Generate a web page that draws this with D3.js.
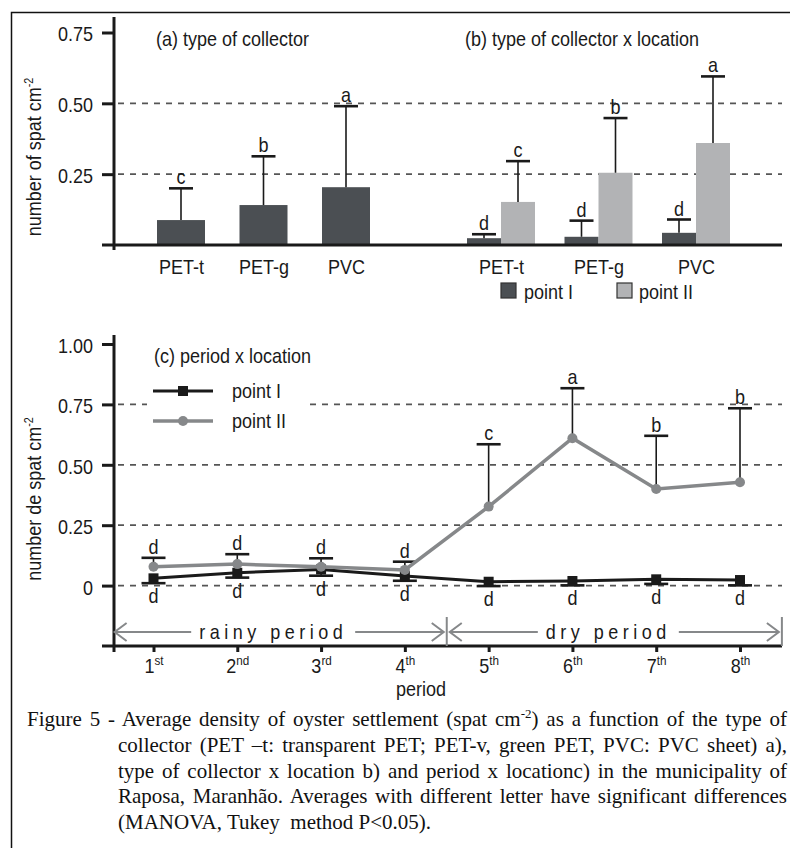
<!DOCTYPE html>
<html>
<head>
<meta charset="utf-8">
<script src="https://cdn.jsdelivr.net/npm/d3@7"></script>
<style>
body { margin: 0; background: #fff; }
#wrap { position: relative; width: 790px; height: 848px; overflow: hidden; }
svg { position: absolute; left: 0; top: 0; }
.cap { position: absolute; font-family: "Liberation Serif", "Times New Roman", serif; font-size: 21px; line-height: 24px; white-space: nowrap; color: #111; }
.just { text-align: justify; text-align-last: justify; }
.sup { font-size: 13px; position: relative; top: -8px; }
</style>
</head>
<body>
<div id="wrap"></div>
<script>
// (a) type of collector
const collectors = ["PET-t", "PET-g", "PVC"]
const collectorMean = [0.088, 0.141, 0.204]
const collectorUpper = [0.200, 0.313, 0.490]
const collectorLetter = ["c", "b", "a"]

// (b) type of collector x location
const locations = ["point I", "point II"]
const locIMean = [0.024, 0.029, 0.043]
const locIUpper = [0.038, 0.086, 0.090]
const locILetter = ["d", "d", "d"]
const locIIMean = [0.152, 0.255, 0.360]
const locIIUpper = [0.296, 0.448, 0.595]
const locIILetter = ["c", "b", "a"]

// (c) period x location
const periods = [1, 2, 3, 4, 5, 6, 7, 8]
const periodNum = ["1", "2", "3", "4", "5", "6", "7", "8"]
const periodSup = ["st", "nd", "rd", "th", "th", "th", "th", "th"]
const pointIMean = [0.030, 0.053, 0.067, 0.040, 0.016, 0.019, 0.026, 0.023]
const pointILower = [0.010, 0.033, 0.041, 0.020, -0.002, 0.001, 0.007, 0.001]
const pointILetter = ["d", "d", "d", "d", "d", "d", "d", "d"]
const pointIIMean = [0.078, 0.089, 0.078, 0.065, 0.327, 0.610, 0.400, 0.428]
const pointIIUpper = [0.115, 0.130, 0.113, 0.099, 0.585, 0.817, 0.620, 0.734]
const pointIILetter = ["d", "d", "d", "d", "c", "a", "b", "b"]
const seasons = ["rainy period", "dry period"]
const seasonFrom = [0.5, 4.5]
const seasonTo = [4.5, 8.5]

const W = 790, H = 848
const ink = "#1a1a1a", dark = "#4b4f53", light = "#b2b3b5", grey = "#86888a"
const dash = "6,6"
const capW = 24
const SX = 0.9   // the figure's sans text is a little condensed
const sans = "'Liberation Sans', Arial, sans-serif"

const svg = d3.select("#wrap").append("svg")
  .attr("width", W)
  .attr("height", H)
  .style("font-family", sans)
  .style("font-size", "20px")

// frame round the figure (runs off the right and bottom)
svg.append("rect")
  .attr("x", 11.5).attr("y", 12.5)
  .attr("width", 820).attr("height", 900)
  .attr("fill", "none")
  .attr("stroke", "#111")
  .attr("stroke-width", 1.5)

// text placed at x,y, squeezed horizontally
const put = (g, x, y, rot) => g.append("text")
  .attr("transform", `translate(${x},${y})${rot ? " rotate(-90)" : ""} scale(${SX},1)`)
  .attr("fill", ink)
  .style("font-size", "20px")
  .style("font-family", sans)

const errBar = (g, x, yA, yB) => {
  g.append("line").attr("x1", x).attr("x2", x).attr("y1", yA).attr("y2", yB)
    .attr("stroke", ink).attr("stroke-width", 1.6)
  g.append("line").attr("x1", x - capW / 2).attr("x2", x + capW / 2).attr("y1", yB).attr("y2", yB)
    .attr("stroke", ink).attr("stroke-width", 2.6)
}

const letter = (g, x, y, t) => put(g, x, y).attr("text-anchor", "middle").text(t)

const styleAxis = g => {
  g.select(".domain").remove()
  g.selectAll(".tick line").attr("stroke", ink).attr("stroke-width", 3)
  g.selectAll(".tick text").attr("fill", ink).style("font-size", "20px")
    .style("font-family", sans)
    .attr("transform", `scale(${SX},1)`)
}

// ---------------- upper panel: (a) and (b) ----------------
const yTop = d3.scaleLinear().domain([0, 0.75]).range([245, 32.5])
const xA = d3.scalePoint().domain(collectors).range([181, 346])
const xB = d3.scalePoint().domain(collectors).range([501, 696])
const xSub = d3.scaleBand().domain(locations).range([-34, 34])
const barA = 48

const upper = svg.append("g")

upper.selectAll(".grid")
  .data([0.25, 0.5])
  .enter()
  .append("line")
  .attr("x1", 118).attr("x2", 782)
  .attr("y1", d => yTop(d)).attr("y2", d => yTop(d))
  .attr("stroke", "#555").attr("stroke-width", 1.8)
  .attr("stroke-dasharray", dash)

// (a) bars
collectors.forEach((c, i) => {
  upper.append("rect")
    .attr("x", xA(c) - barA / 2)
    .attr("width", barA)
    .attr("y", yTop(collectorMean[i]))
    .attr("height", yTop(0) - yTop(collectorMean[i]))
    .attr("fill", dark)
  errBar(upper, xA(c), yTop(collectorMean[i]), yTop(collectorUpper[i]))
  letter(upper, xA(c), yTop(collectorUpper[i]) - 4, collectorLetter[i])
})

// (b) bars
const locMean = [locIMean, locIIMean]
const locUpper = [locIUpper, locIIUpper]
const locLetter = [locILetter, locIILetter]
collectors.forEach((c, i) => {
  locations.forEach((l, j) => {
    const x0 = xB(c) + xSub(l)
    const cx = x0 + xSub.bandwidth() / 2
    upper.append("rect")
      .attr("x", x0)
      .attr("width", xSub.bandwidth())
      .attr("y", yTop(locMean[j][i]))
      .attr("height", yTop(0) - yTop(locMean[j][i]))
      .attr("fill", j === 0 ? dark : light)
    errBar(upper, cx, yTop(locMean[j][i]), yTop(locUpper[j][i]))
    letter(upper, cx, yTop(locUpper[j][i]) - 4, locLetter[j][i])
  })
})

upper.append("g")
  .attr("transform", "translate(114,0)")
  .call(d3.axisLeft(yTop).tickValues([0.25, 0.5, 0.75]).tickSize(12).tickPadding(9).tickFormat(d3.format(".2f")))
  .call(styleAxis)
  .call(g => g.selectAll(".tick text").attr("x", -21 / SX).attr("dy", "0.42em"))

upper.append("g")
  .attr("transform", "translate(0,245)")
  .call(d3.axisBottom(xA).tickSize(0).tickPadding(15))
  .call(styleAxis)
upper.append("g")
  .attr("transform", "translate(0,245)")
  .call(d3.axisBottom(xB).tickSize(0).tickPadding(15))
  .call(styleAxis)

upper.append("line").attr("x1", 114).attr("x2", 114).attr("y1", 17).attr("y2", 250)
  .attr("stroke", ink).attr("stroke-width", 3)
upper.append("line").attr("x1", 102).attr("x2", 782).attr("y1", 245).attr("y2", 245)
  .attr("stroke", ink).attr("stroke-width", 3)

put(upper, 156, 46).text("(a) type of collector")
put(upper, 465, 46).text("(b) type of collector x location")

const yLabA = put(upper, 41, 157, true).attr("text-anchor", "middle")
yLabA.append("tspan").text("number of spat cm")
yLabA.append("tspan").attr("dy", -8).style("font-size", "12px").text("-2")

// legend (b)
const legB = upper.append("g")
legB.selectAll("rect")
  .data(locations)
  .enter()
  .append("rect")
  .attr("x", (d, i) => [501, 617][i])
  .attr("y", 283)
  .attr("width", 15).attr("height", 15)
  .attr("fill", (d, i) => i === 0 ? dark : light)
  .attr("stroke", "#333").attr("stroke-width", 1.2)
locations.forEach((l, i) => put(legB, [524, 639][i], 299).text(l))

// ---------------- lower panel: (c) ----------------
const yC = d3.scaleLinear().domain([-0.25, 1]).range([646, 344])
const xC = d3.scaleLinear().domain([1, 8]).range([153.5, 740])
const lower = svg.append("g")

lower.selectAll(".grid")
  .data([0, 0.25, 0.5, 0.75])
  .enter()
  .append("line")
  .attr("x1", 118).attr("x2", 782)
  .attr("y1", d => yC(d)).attr("y2", d => yC(d))
  .attr("stroke", "#555").attr("stroke-width", 1.8)
  .attr("stroke-dasharray", dash)

// legend panel hides part of the 0.75 line
lower.append("rect").attr("x", 147).attr("y", 378).attr("width", 163).attr("height", 54).attr("fill", "#fff")

// error bars and letters
periods.forEach((p, i) => {
  errBar(lower, xC(p), yC(pointIIMean[i]), yC(pointIIUpper[i]))
  letter(lower, xC(p), yC(pointIIUpper[i]) - 4, pointIILetter[i])
  errBar(lower, xC(p), yC(pointIMean[i]), yC(pointILower[i]))
  letter(lower, xC(p), yC(pointILower[i]) + 20, pointILetter[i])
})

const line = d3.line().x((d, i) => xC(periods[i])).y(d => yC(d))

lower.append("path").datum(pointIMean).attr("d", line)
  .attr("fill", "none").attr("stroke", ink).attr("stroke-width", 3)
lower.selectAll(".sq")
  .data(pointIMean)
  .enter()
  .append("rect")
  .attr("x", (d, i) => xC(periods[i]) - 5)
  .attr("y", d => yC(d) - 5)
  .attr("width", 10).attr("height", 10)
  .attr("fill", ink)

lower.append("path").datum(pointIIMean).attr("d", line)
  .attr("fill", "none").attr("stroke", grey).attr("stroke-width", 3.5)
lower.selectAll(".dot")
  .data(pointIIMean)
  .enter()
  .append("circle")
  .attr("cx", (d, i) => xC(periods[i]))
  .attr("cy", d => yC(d))
  .attr("r", 5)
  .attr("fill", grey)

// legend (c)
lower.append("line").attr("x1", 153).attr("x2", 213).attr("y1", 391).attr("y2", 391)
  .attr("stroke", ink).attr("stroke-width", 3)
lower.append("rect").attr("x", 178).attr("y", 386).attr("width", 10).attr("height", 10).attr("fill", ink)
lower.append("line").attr("x1", 153).attr("x2", 213).attr("y1", 421).attr("y2", 421)
  .attr("stroke", grey).attr("stroke-width", 3.5)
lower.append("circle").attr("cx", 183).attr("cy", 421).attr("r", 5).attr("fill", grey)
put(lower, 232, 398).text(locations[0])
put(lower, 232, 428).text(locations[1])
put(lower, 154, 363).text("(c) period x location")

// axes
lower.append("g")
  .attr("transform", "translate(114,0)")
  .call(d3.axisLeft(yC).tickValues([0, 0.25, 0.5, 0.75, 1]).tickSize(12).tickPadding(9)
    .tickFormat(d => d === 0 ? "0" : d3.format(".2f")(d)))
  .call(styleAxis)
  .call(g => g.selectAll(".tick text").attr("x", -21 / SX).attr("dy", "0.42em"))

const xAxisC = lower.append("g")
  .attr("transform", "translate(0,646)")
  .call(d3.axisBottom(xC).tickValues(periods).tickSize(6).tickFormat(""))
  .call(styleAxis)
xAxisC.selectAll(".tick text").remove()
xAxisC.selectAll(".tick").each(function (d, i) {
  const t = put(d3.select(this), 0, 27).attr("text-anchor", "middle")
  t.append("tspan").text(periodNum[i])
  t.append("tspan").attr("dy", -8).style("font-size", "13px").text(periodSup[i])
})

lower.append("line").attr("x1", 114).attr("x2", 114).attr("y1", 335).attr("y2", 652)
  .attr("stroke", ink).attr("stroke-width", 3)
lower.append("line").attr("x1", 102).attr("x2", 782).attr("y1", 646).attr("y2", 646)
  .attr("stroke", ink).attr("stroke-width", 3)

put(lower, 421, 696).attr("text-anchor", "middle").text("period")

const yLabC = put(lower, 41, 499, true).attr("text-anchor", "middle")
yLabC.append("tspan").text("number de spat cm")
yLabC.append("tspan").attr("dy", -8).style("font-size", "12px").text("-2")

// season arrows
const ay = 632
seasons.forEach((s, i) => {
  const x0 = xC(seasonFrom[i]) + 3, x1 = xC(seasonTo[i]) - 3
  const mid = (x0 + x1) / 2 - 6
  const t = put(lower, mid, ay + 7).attr("text-anchor", "middle")
    .style("letter-spacing", "5px").text(s)
  const tw = t.node().getComputedTextLength() * SX
  const g = lower.append("g").attr("stroke", grey).attr("stroke-width", 2).attr("fill", "none")
  g.append("line").attr("x1", x0).attr("x2", mid - tw / 2 - 8).attr("y1", ay).attr("y2", ay)
  g.append("line").attr("x1", mid + tw / 2 + 8).attr("x2", x1).attr("y1", ay).attr("y2", ay)
  g.append("path").attr("d", `M${x0 + 12},${ay - 9}L${x0},${ay}L${x0 + 12},${ay + 9}`)
  g.append("path").attr("d", `M${x1 - 12},${ay - 9}L${x1},${ay}L${x1 - 12},${ay + 9}`)
  g.append("line").attr("x1", xC(seasonTo[i])).attr("x2", xC(seasonTo[i]))
    .attr("y1", 617).attr("y2", 646)
})

// caption
const wrap = d3.select("#wrap")
const capLines = [
  { left: 27, width: 760, html: 'Figure 5 - Average density of oyster settlement (spat cm<span class="sup">-2</span>) as a function of the type of', just: true },
  { left: 118, width: 669, html: "collector (PET –t: transparent PET; PET-v, green PET, PVC: PVC sheet) a),", just: true },
  { left: 118, width: 669, html: "type of collector x location b) and period x locationc) in the municipality of", just: true },
  { left: 118, width: 669, html: "Raposa, Maranhão. Averages with different letter have significant differences", just: true },
  { left: 118, width: 669, html: "(MANOVA, Tukey&nbsp; method P&lt;0.05).", just: false }
]
const capBase = [727, 753, 779, 804, 830]
capLines.forEach((c, i) => {
  wrap.append("div")
    .attr("class", c.just ? "cap just" : "cap")
    .style("left", c.left + "px")
    .style("width", c.width + "px")
    .style("top", (capBase[i] - 20) + "px")
    .html(c.html)
})
</script>
</body>
</html>
